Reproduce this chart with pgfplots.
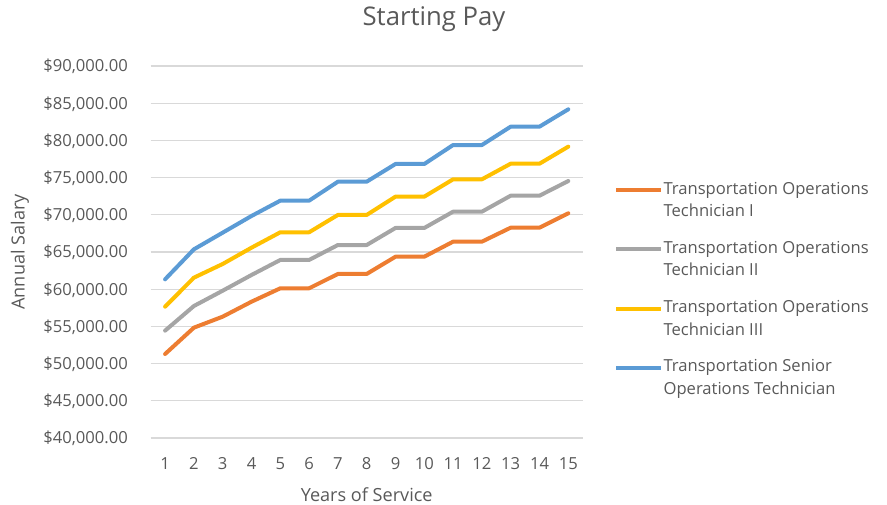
\documentclass[border=0pt]{standalone}
\usepackage{fontspec}
\setmainfont{Open Sans}
\usepackage{pgfplots}
\pgfplotsset{compat=1.18}
\definecolor{cOrange}{HTML}{ED7D31}
\definecolor{cGray}{HTML}{A5A5A5}
\definecolor{cYellow}{HTML}{FFC000}
\definecolor{cBlue}{HTML}{5B9BD5}
\definecolor{txt}{HTML}{595959}
\definecolor{gridc}{HTML}{D9D9D9}
\begin{document}
\begin{tikzpicture}
\useasboundingbox (0pt,0pt) rectangle (887pt,504pt);
\begin{axis}[
  at={(150.7pt,66pt)}, anchor=south west,
  width=432pt, height=372pt, scale only axis,
  xmin=0.5, xmax=15.5, ymin=40000, ymax=90000,
  scaled y ticks=false,
  xtick={1,...,15},
  ytick={40000,45000,50000,55000,60000,65000,70000,75000,80000,85000,90000},
  yticklabels={{\$40,000.00},{\$45,000.00},{\$50,000.00},{\$55,000.00},{\$60,000.00},{\$65,000.00},{\$70,000.00},{\$75,000.00},{\$80,000.00},{\$85,000.00},{\$90,000.00}},
  /pgf/number format/assume math mode=true,
  axis line style={draw=none},
  major tick length=0pt,
  ymajorgrids, grid style={color=gridc, line width=1.2pt},
  tick label style={font=\fontsize{16.6}{20}\selectfont, text=txt, inner sep=0pt},
  xticklabel style={anchor=base, yshift=-31pt},
  yticklabel style={anchor=base east, xshift=-22.7pt, yshift=-5.9pt},
  title={Starting Pay},
  title style={at={(rel axis cs:0.6558,1)}, anchor=base, yshift=35pt, inner sep=0pt, font=\fontsize{25.7}{30}\selectfont, text=txt},
  xlabel={Years of Service},
  xlabel style={at={(rel axis cs:0.5,0)}, anchor=base, yshift=-63pt, inner sep=0pt, font=\fontsize{18.1}{22}\selectfont, text=txt},
  ylabel={Annual Salary},
  ylabel style={at={(rel axis cs:-0.3025,0.5)}, anchor=center, inner sep=0pt, font=\fontsize{18.1}{22}\selectfont, text=txt},
  legend style={at={(rel axis cs:1.07245,0.6885)}, anchor=north west, draw=none, fill=none, inner sep=0pt, row sep=23pt, column sep=0pt, font=\fontsize{16.6}{22.5}\selectfont, text=txt, nodes={inner sep=0pt, align=left}},
  legend cell align=left,
  legend image code/.code={\draw[#1, line width=4pt, line cap=butt] (0pt,9.9pt) -- (45pt,9.9pt); \path (45.4pt,0pt);},
  every axis plot/.append style={line width=4pt, line join=round, line cap=round},
]
\addplot[cOrange] coordinates {(1,51290) (2,54830) (3,56310) (4,58320) (5,60120) (6,60120) (7,62050) (8,62050) (9,64370) (10,64370) (11,66390) (12,66390) (13,68270) (14,68270) (15,70200)};
\addlegendentry{Transportation Operations\\Technician I\vphantom{p}}
\addplot[cGray] coordinates {(1,54430) (2,57740) (3,59800) (4,61910) (5,63930) (6,63930) (7,65940) (8,65940) (9,68230) (10,68230) (11,70420) (12,70420) (13,72570) (14,72570) (15,74540)};
\addlegendentry{Transportation Operations\\Technician II\vphantom{p}}
\addplot[cYellow] coordinates {(1,57650) (2,61550) (3,63390) (4,65580) (5,67650) (6,67650) (7,69980) (8,69980) (9,72440) (10,72440) (11,74770) (12,74770) (13,76870) (14,76870) (15,79160)};
\addlegendentry{Transportation Operations\\Technician III\vphantom{p}}
\addplot[cBlue] coordinates {(1,61330) (2,65360) (3,67600) (4,69840) (5,71900) (6,71900) (7,74450) (8,74450) (9,76830) (10,76830) (11,79380) (12,79380) (13,81850) (14,81850) (15,84180)};
\addlegendentry{Transportation Senior\\Operations Technician}
\end{axis}
\end{tikzpicture}
\end{document}
